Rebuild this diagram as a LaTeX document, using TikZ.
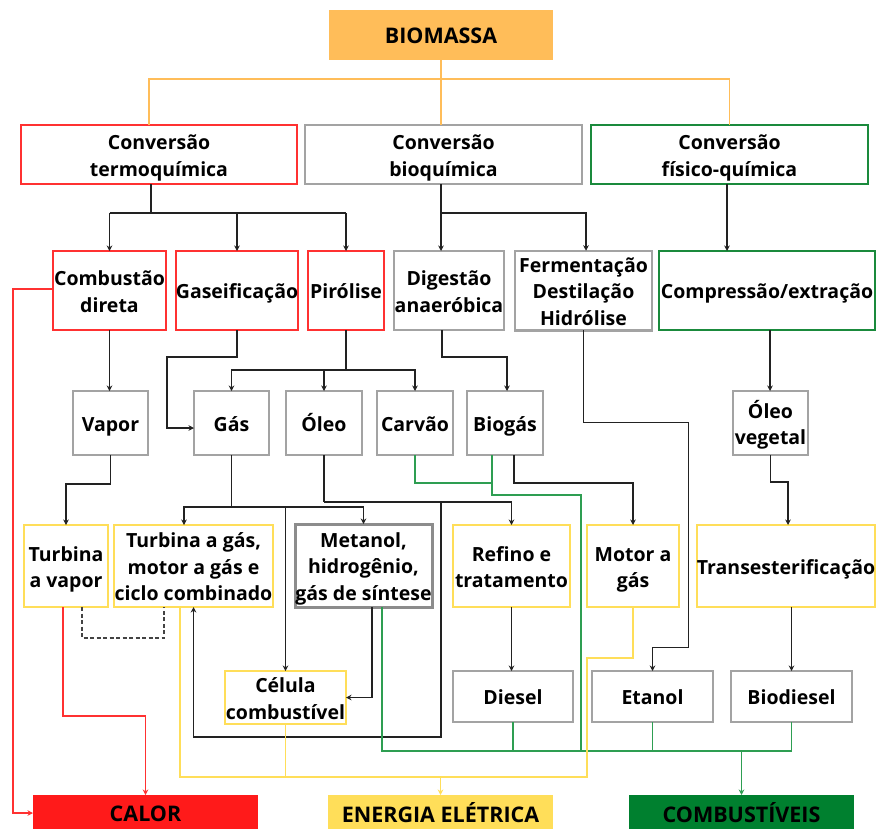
\documentclass[tikz,border=0pt]{standalone}
\usepackage{fontspec}
\setmainfont{Open Sans}
\usetikzlibrary{arrows.meta}
\definecolor{cOr}{HTML}{FFBD59}
\definecolor{cRed}{HTML}{FF3131}
\definecolor{cRedF}{HTML}{FF1A1A}
\definecolor{cGray}{HTML}{A3A3A3}
\definecolor{cGrayD}{HTML}{8C8C8C}
\definecolor{cGreen}{HTML}{1A8A3C}
\definecolor{cGreenF}{HTML}{00802F}
\definecolor{cGreenL}{HTML}{2E9E52}
\definecolor{cYel}{HTML}{FFDE59}
\definecolor{cLine}{HTML}{222222}
\newcommand\ct[1]{\hbox to 0pt{\hss\raisebox{-3pt}[\height][\depth]{\begin{tabular}{@{}c@{}}#1\end{tabular}}\hss}}
\begin{document}
\begin{tikzpicture}[x=1pt,y=-1pt,
  every node/.style={inner sep=0pt, outer sep=0pt, font=\fontsize{19.5}{26.5}\selectfont\bfseries, text=black},
  big/.style={font=\fontsize{21.5}{26.5}\selectfont\bfseries},
  bx/.style={rectangle, draw, line width=2.5pt, fill=white},
  rbox/.style={bx, draw=cRed},
  gbox/.style={bx, draw=cGray},
  grbox/.style={bx, draw=cGreen},
  ybox/.style={bx, draw=cYel},
  fbox/.style={rectangle, big, minimum width=225pt, minimum height=36pt},
  conn/.style={draw=cLine, line width=1.4pt},
  arr/.style={conn, -{Stealth[length=5.5pt,width=5.5pt]}},
  oline/.style={draw=cOr, line width=1.4pt},
  gline/.style={draw=cGreenL, line width=1.4pt},
  garr/.style={gline, -{Stealth[length=5.5pt,width=5.5pt]}},
  yline/.style={draw=cYel, line width=1.4pt},
  yarr/.style={yline, -{Stealth[length=5.5pt,width=5.5pt]}},
  rarr/.style={draw=cRed, line width=1.4pt, -{Stealth[length=5.5pt,width=5.5pt]}},
  dline/.style={draw=cLine!85, line width=1.4pt, dash pattern=on 4pt off 2.5pt}]
\useasboundingbox[fill=white] (0,0) rectangle (877,828);

% top
\node[rectangle, big, fill=cOr, minimum width=224pt, minimum height=50pt] (bio) at (441,35) {\ct{BIOMASSA}};
\node[rbox, minimum width=276pt, minimum height=59pt] (termo) at (159,154.5) {\ct{Conversão\\termoquímica}};
\node[gbox, minimum width=277pt, minimum height=59pt] (bioq) at (443.5,154.5) {\ct{Conversão\\bioquímica}};
\node[grbox, minimum width=277pt, minimum height=59pt] (fisq) at (729.5,154.5) {\ct{Conversão\\físico-química}};

% row 2
\node[rbox, minimum width=113pt, minimum height=79pt] (comb) at (109.5,290.5) {\ct{Combustão\\direta}};
\node[rbox, minimum width=122pt, minimum height=79pt] (gase) at (237,290.5) {\ct{Gaseificação}};
\node[rbox, minimum width=76pt, minimum height=79pt] (piro) at (346,290.5) {\ct{Pirólise}};
\node[gbox, minimum width=110pt, minimum height=79pt] (dige) at (449,290.5) {\ct{Digestão\\anaeróbica}};
\node[gbox, minimum width=137pt, minimum height=79pt] (ferm) at (583.5,290.5) {\ct{Fermentação\\Destilação\\Hidrólise}};
\node[grbox, minimum width=216pt, minimum height=79pt] (comp) at (767,290.5) {\ct{Compressão/extração}};

% row 3
\node[gbox, minimum width=75pt, minimum height=64pt] (vapor) at (110.5,423) {\ct{Vapor}};
\node[gbox, minimum width=75pt, minimum height=64pt] (gas) at (231.5,423) {\ct{Gás}};
\node[gbox, minimum width=76pt, minimum height=64pt] (oleo) at (324,423) {\ct{Óleo}};
\node[gbox, minimum width=76pt, minimum height=64pt] (carv) at (415,423) {\ct{Carvão}};
\node[gbox, minimum width=76pt, minimum height=64pt] (biog) at (505,423) {\ct{Biogás}};
\node[gbox, minimum width=75pt, minimum height=64pt] (olev) at (770.5,423) {\ct{Óleo\\vegetal}};

% row 4
\node[ybox, minimum width=84pt, minimum height=82pt] (tvap) at (66,566) {\ct{Turbina\\a vapor}};
\node[ybox, minimum width=159pt, minimum height=82pt] (tgas) at (193.5,566) {\ct{Turbina a gás,\\motor a gás e\\ciclo combinado}};
\node[bx, draw=cGrayD, line width=3pt, minimum width=137pt, minimum height=83pt] (meta) at (363.5,565.5) {\ct{Metanol,\\hidrogênio,\\gás de síntese}};
\node[ybox, minimum width=117pt, minimum height=82pt] (refi) at (511.5,566) {\ct{Refino e\\tratamento}};
\node[ybox, minimum width=92pt, minimum height=82pt] (moto) at (633,566) {\ct{Motor a\\gás}};
\node[ybox, minimum width=178pt, minimum height=82pt] (tran) at (786,566) {\ct{Transesterificação}};

% row 5
\node[ybox, minimum width=121pt, minimum height=51pt] (celu) at (285.5,697.5) {\ct{Célula\\combustível}};
\node[gbox, minimum width=120pt, minimum height=51pt] (dies) at (513,696.5) {\ct{Diesel}};
\node[gbox, minimum width=121pt, minimum height=51pt] (etan) at (652.5,696.5) {\ct{Etanol}};
\node[gbox, minimum width=121pt, minimum height=51pt] (biod) at (791.5,696.5) {\ct{Biodiesel}};

% bottom
\node[fbox, fill=cRedF] (calor) at (145.5,813) {\ct{CALOR}};
\node[fbox, fill=cYel] (energ) at (440.5,813) {\ct{ENERGIA ELÉTRICA}};
\node[fbox, fill=cGreenF] (combu) at (741.5,813) {\ct{COMBUSTÍVEIS}};

% orange connectors
\draw[oline] (bio.south) -- (bio.south |- bioq.north);
\draw[oline] ([xshift=-10pt]termo.north) |- ([yshift=46pt]fisq.north) -- (fisq.north);

% black connectors
\draw[conn] ([xshift=-8pt]termo.south) -- ++(0,29) coordinate (t1);
\draw[conn] (comb.north |- t1) -- (piro.north |- t1);
\draw[arr] (comb.north |- t1) -- (comb.north);
\draw[arr] (gase.north |- t1) -- (gase.north);
\draw[arr] (piro.north |- t1) -- (piro.north);

\draw[arr] ([xshift=-2.5pt]bioq.south) -- ([xshift=-2.5pt]bioq.south |- dige.north);
\draw[arr] ([xshift=-2.5pt,yshift=-29pt]bioq.south) -| ([xshift=2.5pt]ferm.north);
\draw[arr] ([xshift=-2.5pt]fisq.south) -- ([xshift=-2.5pt]fisq.south |- comp.north);

\draw[arr] (comb.south) -- (comb.south |- vapor.north);
\draw[arr] (gase.south) -- ++(0,27) -- ++(-70,0) |- ([yshift=-5pt]gas.west);
\draw[conn] (piro.south) -- ++(0,40) coordinate (p1);
\draw[arr] (p1) -| (gas.north);
\draw[arr] (p1) -| (carv.north);
\draw[arr] (oleo.north |- p1) -- (oleo.north);
\draw[arr] ([xshift=-7pt]dige.south) -- ++(0,27) -| ([xshift=2pt]biog.north);
\draw[arr] (ferm.south) -- ++(0,92) -- ++(105,0) -- ++(0,225) -| (etan.north);
\draw[arr] ([xshift=3pt]comp.south) -- ([xshift=3pt]comp.south |- olev.north);

\draw[arr] (vapor.south) -- ++(0,29) -| (tvap.north);
\draw[conn] (gas.south) -- ++(0,52) coordinate (g1);
\draw[arr] (g1) -| ([xshift=-9.5pt]tgas.north);
\draw[arr] (g1) -| (meta.north);
\draw[arr] (celu.north |- g1) -- (celu.north);
\draw[conn] (oleo.south) -- ++(0,47) coordinate (o1);
\draw[arr] (o1) -| (refi.north);
\draw[arr] (o1 -| bio.south) -- ++(0,235) -| (tgas.south);
\draw[arr] ([xshift=9pt]biog.south) -- ++(0,28) -| (moto.north);
\draw[arr] (olev.south) -- ++(0,27) -| ([xshift=2pt]tran.north);
\draw[arr] ([xshift=8.5pt]meta.south) |- (celu.east);
\draw[arr] (refi.south) -- (refi.south |- dies.north);
\draw[arr] (biod.north |- tran.south) -- (biod.north);

% green connectors
\draw[gline] (carv.south) -- ++(0,28) -| ([xshift=-13pt]biog.south);
\draw[gline] ([xshift=-13pt]biog.south) -- ++(0,40) -- ++(89,0) -- ++(0,256);
\draw[gline] ([xshift=18.5pt]meta.south) -- ++(0,144) coordinate (b1) -| (biod.south);
\draw[gline] (dies.south) -- (dies.south |- b1);
\draw[gline] (etan.south) -- (etan.south |- b1);
\draw[garr] (combu.north |- b1) -- (combu.north);

% yellow connectors
\draw[yline] ([xshift=-13.5pt]tgas.south) -- ++(0,170) coordinate (y1) -- ++(407,0) -- ++(0,-119) -| (moto.south);
\draw[yline] (celu.south) -- (celu.south |- y1);
\draw[yarr] (energ.north |- y1) -- (energ.north);

% red connectors
\draw[rarr] ([yshift=1.5pt]comb.west) -- ++(-40,0) |- (calor.west);
\draw[rarr] ([xshift=-3pt]tvap.south) -- ++(0,109) -| (calor.north);

% dashed
\draw[dline] ([xshift=16pt]tvap.south) -- ++(0,31) -| ([xshift=-29.5pt]tgas.south);
\end{tikzpicture}
\end{document}
